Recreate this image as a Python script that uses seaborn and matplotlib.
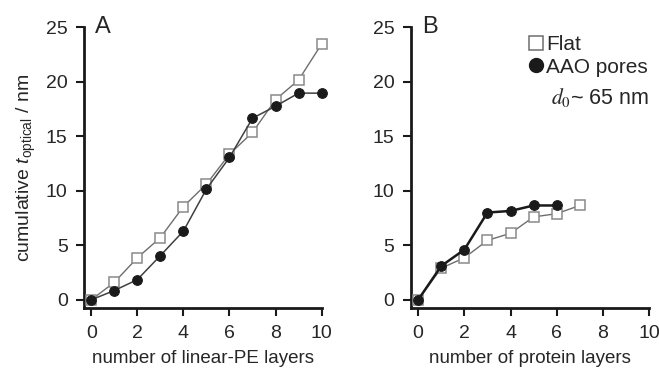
import matplotlib
matplotlib.use("Agg")
import matplotlib.pyplot as plt
from matplotlib.lines import Line2D
import seaborn as sns

# panel A: linear-PE layers
pe_layers = [0, 1, 2, 3, 4, 5, 6, 7, 8, 9, 10]
pe_flat = [0.0, 1.6, 3.85, 5.7, 8.55, 10.6, 13.35, 15.35, 18.35, 20.15, 23.45]
pe_aao = [0.0, 0.85, 1.85, 4.05, 6.3, 10.15, 13.05, 16.65, 17.75, 18.95, 18.95]

# panel B: protein layers
prot_layers_flat = [0, 1, 2, 3, 4, 5, 6, 7]
prot_flat = [0.0, 2.9, 3.85, 5.45, 6.1, 7.6, 7.9, 8.65]
prot_layers_aao = [0, 1, 2, 3, 4, 5, 6]
prot_aao = [0.0, 3.1, 4.6, 8.0, 8.15, 8.65, 8.65]

xticks = [0, 2, 4, 6, 8, 10]
yticks = [0, 5, 10, 15, 20, 25]

sns.set_style("ticks")
plt.rcParams["font.family"] = ["Liberation Sans", "DejaVu Sans"]
plt.rcParams["mathtext.fontset"] = "custom"
plt.rcParams["mathtext.rm"] = "Liberation Sans"
plt.rcParams["mathtext.it"] = "Liberation Sans:italic"

fig = plt.figure(figsize=(6.59, 3.70), dpi=100)
axA = fig.add_axes([0.128, 0.1676, 0.36, 0.759])
axB = fig.add_axes([0.624, 0.1676, 0.361, 0.759])

flat_kw = dict(marker="s", markersize=6.8, markerfacecolor="white",
               markeredgecolor="#8a8a8a", markeredgewidth=1.1, color="#6e6e6e",
               linewidth=1.0, clip_on=False, zorder=3)
aao_kw = dict(marker="o", markersize=7.0, markerfacecolor="#1a1a1a",
              markeredgecolor="#1a1a1a", clip_on=False, zorder=4)

sns.lineplot(x=pe_layers, y=pe_flat, ax=axA, **flat_kw)
sns.lineplot(x=pe_layers, y=pe_aao, ax=axA, color="#404040", linewidth=1.1, **aao_kw)
sns.lineplot(x=prot_layers_flat, y=prot_flat, ax=axB, **flat_kw)
sns.lineplot(x=prot_layers_aao, y=prot_aao, ax=axB, color="#1a1a1a", linewidth=1.8, **aao_kw)

for ax, xlabel, letter in [(axA, "number of linear-PE layers", "A"),
                           (axB, "number of protein layers", "B")]:
    ax.set_xlim(-0.3, 10)
    ax.set_ylim(-0.75, 25)
    ax.set_xticks(xticks)
    ax.set_yticks(yticks)
    ax.tick_params(labelsize=14, length=6, width=1.5, color="#1a1a1a", pad=6)
    for s in ["left", "bottom"]:
        ax.spines[s].set_linewidth(2)
        ax.spines[s].set_color("#1a1a1a")
    sns.despine(ax=ax)
    ax.set_xlabel(xlabel, fontsize=13.5, labelpad=6)
    ax.text(0.045, 1.04, letter, transform=ax.transAxes, fontsize=17, va="top", ha="left")

axA.set_ylabel(r"cumulative $t_{\mathrm{optical}}$ / nm", fontsize=14, labelpad=6)

handles = [Line2D([], [], linestyle="none", marker="s", markersize=10, markerfacecolor="white",
                  markeredgecolor="#6e6e6e", markeredgewidth=1.1),
           Line2D([], [], linestyle="none", marker="o", markersize=10, markerfacecolor="#1a1a1a",
                  markeredgecolor="#1a1a1a")]
axB.legend(handles, ["Flat", "AAO pores"], loc="upper right", frameon=False, fontsize=15,
           handlelength=0.7, handletextpad=0.15, borderaxespad=0.0, labelspacing=0.15,
           bbox_to_anchor=(1.03, 1.0))
axB.text(1.0, 0.75, r"$d_0$~ 65 nm", transform=axB.transAxes, fontsize=15.5,
         ha="right", va="center", math_fontfamily="stix")

fig.savefig("out.png", dpi=100)
